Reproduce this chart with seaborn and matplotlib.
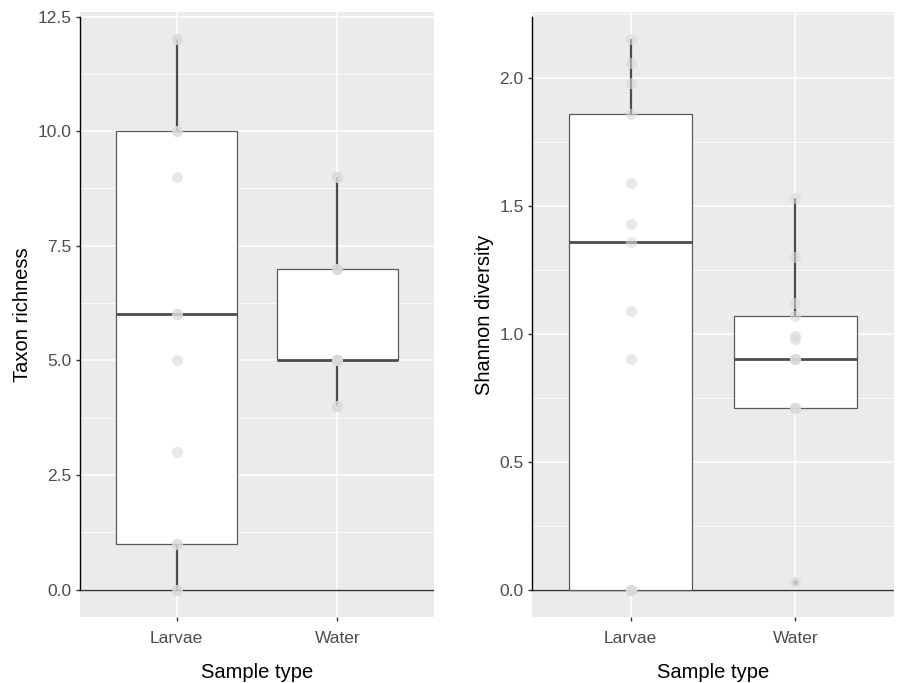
import matplotlib
matplotlib.use("Agg")
import matplotlib.pyplot as plt
import numpy as np
import pandas as pd
import seaborn as sns
from matplotlib.ticker import FormatStrFormatter, MultipleLocator

sample_types = ["Larvae", "Water"]
larvae_richness = [0, 0, 1, 1, 3, 5, 6, 6, 9, 10, 10, 12, 12]
water_richness = [4, 4, 5, 5, 5, 5, 5, 5, 7, 7, 7, 9, 9]
larvae_shannon = [0, 0, 0, 0, 0.90, 1.09, 1.36, 1.43, 1.59, 1.86, 1.98, 2.06, 2.15]
water_shannon = [0.03, 0.71, 0.71, 0.71, 0.90, 0.90, 0.90, 0.98, 0.99, 1.07, 1.12, 1.30, 1.53]

df = pd.DataFrame({
    "Sample type": [sample_types[0]] * len(larvae_richness) + [sample_types[1]] * len(water_richness),
    "Taxon richness": larvae_richness + water_richness,
    "Shannon diversity": larvae_shannon + water_shannon,
})

sns.set_theme(style="darkgrid", rc={
    "axes.facecolor": "#EBEBEB",
    "grid.color": "white",
    "xtick.bottom": True,
    "ytick.left": True,
    "xtick.color": "#333333",
    "ytick.color": "#333333",
    "xtick.labelcolor": "#4D4D4D",
    "ytick.labelcolor": "#4D4D4D",
    "xtick.major.size": 3,
    "ytick.major.size": 3,
    "xtick.major.width": 1,
    "ytick.major.width": 1,
})
plt.rcParams["font.family"] = ["Liberation Sans", "DejaVu Sans"]

fig = plt.figure(figsize=(8.99, 6.83), dpi=100)
ax1 = fig.add_axes([80 / 899, 66 / 683, 354 / 899, 605 / 683])
ax2 = fig.add_axes([532 / 899, 66 / 683, 362 / 899, 605 / 683])

panels = [
    (ax1, "Taxon richness", (-0.6, 12.6), 2.5, 1.25, 12.5),
    (ax2, "Shannon diversity", (-0.1075, 2.2575), 0.5, 0.25, 2.236),
]

for ax, col, ylim, major, minor, top in panels:
    ax.axhline(0, color="#333333", linewidth=1.0, zorder=1.5)
    sns.boxplot(
        data=df, x="Sample type", y=col, ax=ax, order=sample_types,
        width=0.75, whis=1.5, showcaps=False,
        boxprops=dict(facecolor="white", edgecolor="#5A5A5A", linewidth=0.9),
        whiskerprops=dict(color="#4D4D4D", linewidth=1.6),
        medianprops=dict(color="#4D4D4D", linewidth=2.0),
        flierprops=dict(marker="o", markersize=3, markerfacecolor="#A0A0A0",
                        markeredgecolor="#A0A0A0"),
    )
    sns.stripplot(
        data=df, x="Sample type", y=col, ax=ax, order=sample_types,
        jitter=False, color="#D9D9D9", alpha=0.6, size=8, linewidth=0, zorder=5,
    )
    ax.set_xlim(-0.6, 1.6)
    ax.set_ylim(*ylim)
    ax.yaxis.set_major_locator(MultipleLocator(major))
    ax.yaxis.set_minor_locator(MultipleLocator(minor))
    ax.yaxis.set_major_formatter(FormatStrFormatter("%.1f"))
    ax.grid(which="major", color="white", linewidth=1.1)
    ax.grid(which="minor", axis="y", color="white", linewidth=0.55)
    ax.tick_params(which="minor", length=0)
    ax.tick_params(axis="y", labelsize=12.5, pad=3)
    ax.tick_params(axis="x", labelsize=12.5, pad=7)
    for side in ["top", "right", "bottom"]:
        ax.spines[side].set_visible(False)
    ax.spines["left"].set_visible(True)
    ax.spines["left"].set_color("black")
    ax.spines["left"].set_linewidth(1.0)
    ax.spines["left"].set_bounds(0, top)
    ax.set_xlabel("Sample type", fontsize=14.5, labelpad=12, color="black")
    ax.set_ylabel(col, fontsize=14.5, labelpad=4, color="black")

fig.savefig("out.png", dpi=100)
